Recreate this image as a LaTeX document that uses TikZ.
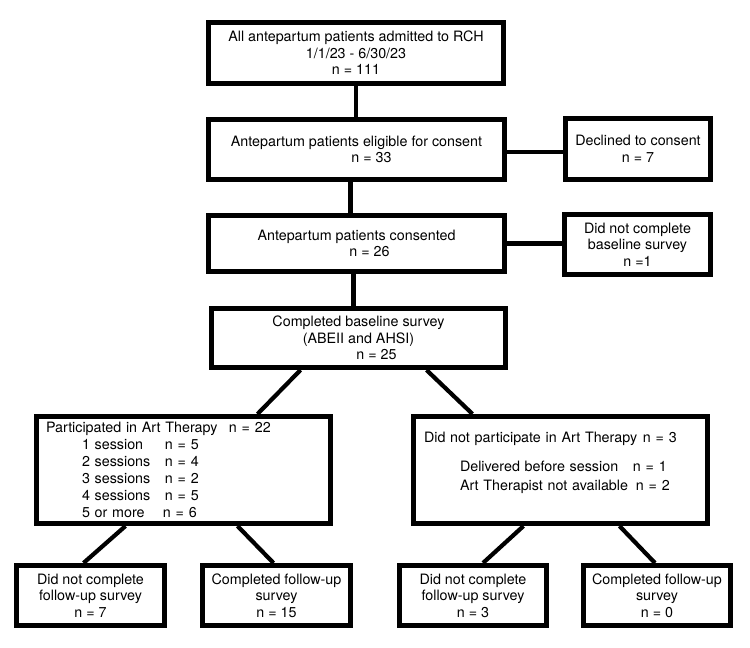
\documentclass[tikz,border=0pt]{standalone}
\usepackage{fontspec}
\setmainfont{TeX Gyre Heros}
\usetikzlibrary{positioning, calc}

\begin{document}
\begin{tikzpicture}[
  x=1pt, y=-1pt,
  box/.style={rectangle, draw=black, line width=4.8pt, align=center, inner sep=2pt,
    font=\fontsize{14.3}{16.6}\selectfont},
  bigbox/.style={box, align=left, minimum width=294.2pt, minimum height=107.2pt},
  link/.style={line width=4.2pt, black}
]
\useasboundingbox (0,0) rectangle (750,648);

% main column
\node[box, minimum width=295.2pt, minimum height=61.2pt] (all) at (356,53)
  {All antepartum patients admitted to RCH\\1/1/23 - 6/30/23\\n = 111};
\node[box, minimum width=296.2pt, minimum height=60.2pt] (elig) at (356.5,149.5)
  {Antepartum patients eligible for consent\\\hspace*{30pt}n = 33};
\node[box, minimum width=296.2pt, minimum height=56.2pt] (cons) at (356.5,243.5)
  {Antepartum patients consented\\\hspace*{26pt}n = 26};
\node[box, minimum width=294.2pt, minimum height=59.2pt] (base) at (358.5,338)
  {Completed baseline survey\\(ABEII and AHSI)\\\hspace*{36pt}n = 25};

% exclusions
\node[box, minimum width=145.2pt, minimum height=61.2pt] (decl) at (638,149)
  {Declined to consent\\n = 7};
\node[box, minimum width=146.2pt, minimum height=60.2pt] (nobase) at (637.5,244.5)
  {Did not complete\\baseline survey\\n =1};

% art therapy groups
\node[bigbox, text width=275pt, font=\fontsize{14.3}{17}\selectfont] (part) at (183.5,470)
  {\makebox[183pt][l]{Participated in Art Therapy}n = 22\\
   \hspace*{36pt}\makebox[83pt][l]{1 session}n = 5\\
   \hspace*{36pt}\makebox[83pt][l]{2 sessions}n = 4\\
   \hspace*{36pt}\makebox[83pt][l]{3 sessions}n = 2\\
   \hspace*{36pt}\makebox[83pt][l]{4 sessions}n = 5\\
   \hspace*{36pt}\makebox[81pt][l]{5 or more}n = 6};
\node[bigbox, text width=273pt, font=\fontsize{14.3}{17}\selectfont] (nopart) at (560.5,470)
  {\makebox[219pt][l]{Did not participate in Art Therapy}n = 3\\[12pt]
   \hspace*{36pt}\makebox[173pt][l]{Delivered before session}n = 1\\[2pt]
   \hspace*{36pt}\makebox[176pt][l]{Art Therapist not available}n = 2\\[1pt]
   \mbox{}};

% follow-up
\node[box, minimum width=148.2pt, minimum height=60.2pt] (partNo) at (90.5,595.5)
  {Did not complete\\follow-up survey\\n = 7};
\node[box, minimum width=148.2pt, minimum height=60.2pt] (partYes) at (276.5,595.5)
  {Completed follow-up\\survey\\n = 15};
\node[box, minimum width=147.2pt, minimum height=60.2pt] (nopartNo) at (473,595.5)
  {Did not complete\\follow-up survey\\n = 3};
\node[box, minimum width=147.2pt, minimum height=60.2pt] (nopartYes) at (657,595.5)
  {Completed follow-up\\survey\\n = 0};

% connectors
\draw[link] (all.south) -- (all.south |- elig.north);
\draw[link] ([xshift=-6pt]elig.south) -- ([xshift=-6pt]cons.north);
\draw[link] ([xshift=-3pt]cons.south) -- ([xshift=-5pt]base.north);
\draw[link] ([yshift=-2.5pt]elig.east) -- ([yshift=-2.5pt]elig.east -| decl.west);
\draw[link] (cons.east) -- (cons.east -| nobase.west);
\draw[link] ([xshift=-58pt]base.south) -- ([xshift=74pt]part.north);
\draw[link] ([xshift=68pt]base.south) -- ([xshift=-88pt]nopart.north);
\draw[link] ([xshift=-58pt]part.south) -- ([xshift=-7pt]partNo.north);
\draw[link] ([xshift=54pt]part.south) -- ([xshift=-3pt]partYes.north);
\draw[link] ([xshift=-37pt]nopart.south) -- ([xshift=10pt]nopartNo.north);
\draw[link] ([xshift=59pt]nopart.south) -- ([xshift=-2pt]nopartYes.north);
\end{tikzpicture}
\end{document}
